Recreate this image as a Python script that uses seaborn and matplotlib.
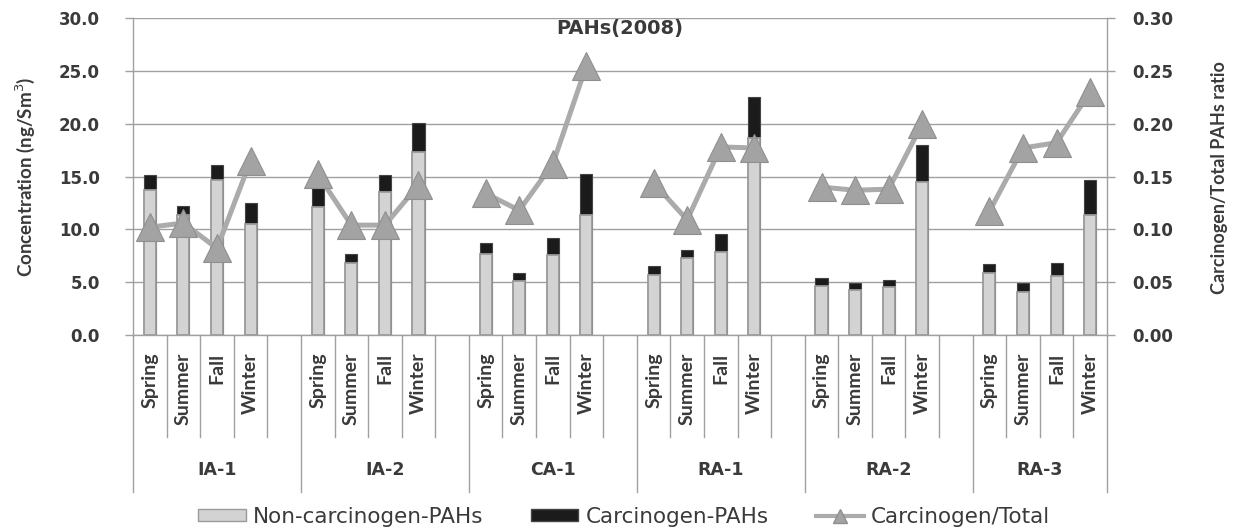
import numpy as np
import pandas as pd
import matplotlib
matplotlib.use('Agg')
import matplotlib.pyplot as plt
import matplotlib.transforms as mtransforms
from matplotlib.patches import Patch
from matplotlib.lines import Line2D
import seaborn as sns

# data
sites = ['IA-1', 'IA-2', 'CA-1', 'RA-1', 'RA-2', 'RA-3']
seasons = ['Spring', 'Summer', 'Fall', 'Winter']
non_carc = [13.7, 11.4, 14.7, 10.5,
            12.1, 6.85, 13.5, 17.3,
            7.65, 5.1, 7.6, 11.4,
            5.7, 7.25, 7.9, 18.6,
            4.65, 4.25, 4.5, 14.5,
            5.9, 4.1, 5.6, 11.4]
carc = [1.45, 0.8, 1.4, 2.0,
        2.1, 0.8, 1.6, 2.75,
        1.1, 0.8, 1.6, 3.8,
        0.8, 0.8, 1.7, 3.9,
        0.7, 0.65, 0.75, 3.5,
        0.8, 0.85, 1.25, 3.3]
ratio = [0.102, 0.106, 0.082, 0.165,
         0.152, 0.104, 0.104, 0.142,
         0.134, 0.118, 0.162, 0.255,
         0.144, 0.109, 0.178, 0.177,
         0.140, 0.137, 0.138, 0.200,
         0.117, 0.177, 0.182, 0.230]

LIGHT = '#d3d3d3'
LIGHT_EDGE = '#9a9a9a'
DARK = '#1b1b1b'
LINE = '#ababab'
TXT = '#3a3a3a'
AXC = '#a0a0a0'

plt.rcParams['font.family'] = ['DejaVu Sans']

rows = []
for g, site in enumerate(sites):
    for s, season in enumerate(seasons):
        i = g * 4 + s
        rows.append({'site': site, 'season': season, 'pos': g * 5 + s,
                     'non': non_carc[i], 'carc': carc[i],
                     'total': non_carc[i] + carc[i], 'ratio': ratio[i]})
df = pd.DataFrame(rows)
n_slots = len(sites) * 5 - 1

fig = plt.figure(figsize=(12.41, 5.31), dpi=100)
ax = fig.add_axes([0.1072, 0.3691, 0.7848, 0.597])

# stacked bars: full total in black, non-carcinogen part drawn over it
sns.barplot(data=df, x='pos', y='total', native_scale=True, width=0.36,
            color=DARK, saturation=1, errorbar=None, ax=ax,
            edgecolor='#444444', linewidth=0.8, zorder=3)
sns.barplot(data=df, x='pos', y='non', native_scale=True, width=0.36,
            color=LIGHT, saturation=1, errorbar=None, ax=ax,
            edgecolor=LIGHT_EDGE, linewidth=1.3, zorder=4)

ax.set_xlim(-0.5, n_slots - 0.5)
ax.set_ylim(0, 30)
ax.set_yticks(np.arange(0, 30.1, 5))
ax.set_yticklabels([f'{v:.1f}' for v in np.arange(0, 30.1, 5)])
ax.set_xticks([])
ax.set_xlabel('')
ax.set_ylabel('')
ax.grid(axis='y', color=AXC, lw=1, zorder=0)
ax.set_axisbelow(True)
ax.tick_params(axis='y', length=6, width=1, color=AXC, pad=18,
               labelsize=12, labelcolor=TXT)
for lab in ax.get_yticklabels():
    lab.set_fontweight('bold')
for s in ['top', 'right']:
    ax.spines[s].set_visible(False)
for s in ['left', 'bottom']:
    ax.spines[s].set_color(AXC)
    ax.spines[s].set_linewidth(1)

ax2 = ax.twinx()
sns.lineplot(data=df, x='pos', y='ratio', units='site', estimator=None,
             color=LINE, lw=3.6, marker='^', ms=20, mfc='#a3a3a3',
             mec='#8f8f8f', mew=0.8, ax=ax2, legend=False, zorder=5)
ax2.set_ylim(0, 0.30)
ax2.set_yticks(np.arange(0, 0.301, 0.05))
ax2.set_yticklabels([f'{v:.2f}' for v in np.arange(0, 0.301, 0.05)])
ax2.set_ylabel('')
ax2.set_xlabel('')
ax2.tick_params(axis='y', length=6, width=1, color=AXC, pad=12,
                labelsize=12, labelcolor=TXT)
for lab in ax2.get_yticklabels():
    lab.set_fontweight('bold')
for s in ['top', 'left', 'bottom']:
    ax2.spines[s].set_visible(False)
ax2.spines['right'].set_color(AXC)
ax2.spines['right'].set_linewidth(1)

# category axis: separators, season and site labels
trans = mtransforms.blended_transform_factory(ax.transData, ax.transAxes)
for k in range(n_slots + 1):
    long_line = (k % 5 == 0) or (k == n_slots)
    y_end = -0.495 if long_line else -0.322
    ax.plot([k - 0.5, k - 0.5], [0, y_end], transform=trans, color=AXC,
            lw=1, clip_on=False)
for _, r in df.iterrows():
    ax.text(r['pos'], -0.055, r['season'], transform=trans, rotation=90,
            ha='center', va='top', fontsize=14, fontweight='bold',
            color=TXT, family='Lato')
for g, site in enumerate(sites):
    left = g * 5 - 0.5
    right = min(g * 5 + 4.5, n_slots - 0.5)
    ax.text((left + right) / 2, -0.426, site, transform=trans, ha='center',
            va='center', fontsize=12.5, fontweight='bold', color=TXT)

ax.text(0.5, 0.967, 'PAHs(2008)', transform=ax.transAxes, ha='center',
        va='center', fontsize=14, fontweight='bold', color=TXT)

fig.text(0.0201, 0.667, 'Concentration (ng/Sm$^3$)', rotation=90,
         ha='center', va='center', fontsize=13.5, fontweight='bold',
         color=TXT, family='Lato')
fig.text(0.983, 0.666, 'Carcinogen/Total PAHs ratio', rotation=90,
         ha='center', va='center', fontsize=13, fontweight='bold',
         color=TXT, family='Lato')

handles = [Patch(facecolor=LIGHT, edgecolor=LIGHT_EDGE, lw=1),
           Patch(facecolor=DARK, edgecolor='#444444', lw=1),
           Line2D([], [], color=LINE, lw=3, marker='^', ms=10,
                  mfc='#a3a3a3', mec='#8f8f8f')]
labels = ['Non-carcinogen-PAHs', 'Carcinogen-PAHs', 'Carcinogen/Total']
fig.legend(handles, labels, loc='center', bbox_to_anchor=(0.503, 0.027),
           ncol=3, frameon=False, fontsize=15.5, handlelength=2.2,
           handleheight=0.5, handletextpad=0.35, columnspacing=2.2,
           labelcolor=TXT)

fig.savefig('out.png', dpi=100)
